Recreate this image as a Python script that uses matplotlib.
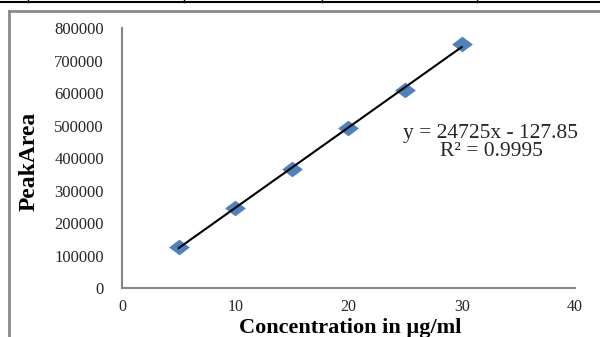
import matplotlib
matplotlib.use("Agg")
import matplotlib.pyplot as plt
import numpy as np
from matplotlib.lines import Line2D
from matplotlib.path import Path

# ---- data ----
concentration = [5, 10, 15, 20, 25, 30]
peak_area = [126000, 248000, 367500, 493000, 609000, 751000]
slope = 24725
intercept = -127.85
x_ticks = [0, 10, 20, 30, 40]
y_ticks = [0, 100000, 200000, 300000, 400000, 500000, 600000, 700000, 800000]
x_label = "Concentration in µg/ml"
y_label = "PeakArea"
eq_text = "y = 24725x - 127.85\nR² = 0.9995"

plt.rcParams['font.family'] = ['Liberation Serif', 'DejaVu Serif']

fig = plt.figure(figsize=(6.0, 3.37), dpi=100)
ax = fig.add_axes([0.2033, 0.1445, 0.755, 0.7724])

# diamond marker (wider than tall)
diamond = Path([(-1, 0), (0, 0.75), (1, 0), (0, -0.75), (-1, 0)],
               [Path.MOVETO, Path.LINETO, Path.LINETO, Path.LINETO, Path.CLOSEPOLY])

ax.plot(concentration, peak_area, linestyle='none', marker=diamond,
        markersize=15, color='#4F81BD', markeredgewidth=0, zorder=2)

xs = np.array([min(concentration), max(concentration)])
ax.plot(xs, slope * xs + intercept, color='black', lw=1.5, zorder=3)

ax.set_xlim(0, 40)
ax.set_ylim(0, 800000)
ax.set_xticks(x_ticks)
ax.set_yticks(y_ticks)
ax.set_xticklabels([str(v) for v in x_ticks])
ax.set_yticklabels([str(v) for v in y_ticks])
ax.tick_params(axis='both', length=0, labelsize=12, colors='#262626')
ax.tick_params(axis='y', pad=13)
ax.tick_params(axis='x', pad=8, labelsize=11.5)

for s in ['top', 'right']:
    ax.spines[s].set_visible(False)
for s in ['left', 'bottom']:
    ax.spines[s].set_color('#868686')
    ax.spines[s].set_linewidth(1.5)

ax.text(0.8146, 0.560, eq_text, transform=ax.transAxes, ha='center', va='center',
        multialignment='center', fontsize=15.5, color='#262626', linespacing=0.95)

fig.text(29 / 600, 1 - 161 / 337, y_label, rotation=90, ha='center', va='center',
         fontsize=17, fontweight='bold', color='black')
fig.text(350 / 600, 1 - 333.5 / 337, x_label, ha='center', va='baseline',
         fontsize=16, fontweight='bold', color='black')

# chart frame and table border decorations
fig.add_artist(Line2D([9 / 600, 9 / 600], [0, 1 - 11 / 337], color='#8a8a8a', lw=2,
                      transform=fig.transFigure))
fig.add_artist(Line2D([9 / 600, 1], [1 - 11 / 337, 1 - 11 / 337], color='#8a8a8a', lw=2,
                      transform=fig.transFigure))
fig.add_artist(Line2D([0, 1], [1 - 2 / 337, 1 - 2 / 337], color='black', lw=1.5,
                      transform=fig.transFigure))
for px in [28, 184, 322, 477]:
    fig.add_artist(Line2D([px / 600, px / 600], [1 - 2 / 337, 1], color='black', lw=1,
                          transform=fig.transFigure))

fig.savefig('out.png', dpi=100)
